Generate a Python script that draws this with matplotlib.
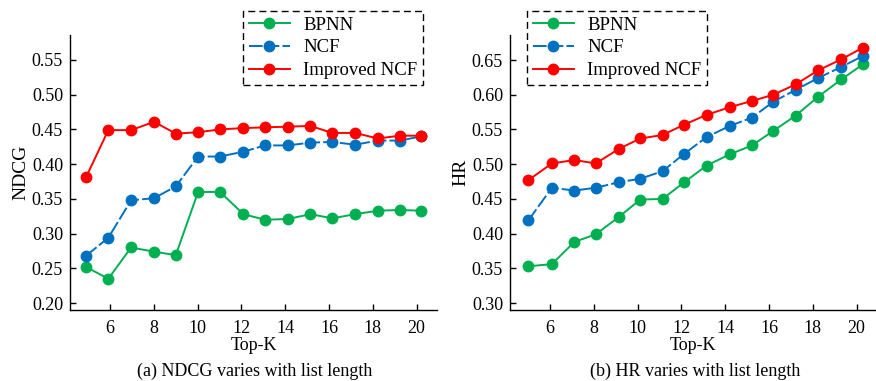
import matplotlib
matplotlib.use("Agg")
import matplotlib.pyplot as plt

plt.rcParams['font.family'] = ['Liberation Serif', 'DejaVu Serif']
plt.rcParams['mathtext.fontset'] = 'stix'

# Top-K positions as drawn (slightly offset from the integers in the original)
topk_a = [4.90, 5.92, 6.96, 8.01, 9.00, 10.02, 11.02, 12.09, 13.08, 14.11, 15.15, 16.15, 17.19, 18.22, 19.24, 20.20]
topk_b = [5.01, 6.08, 7.11, 8.09, 9.14, 10.12, 11.14, 12.13, 13.15, 14.20, 15.22, 16.20, 17.22, 18.24, 19.30, 20.30]

ndcg_bpnn = [0.252, 0.235, 0.280, 0.274, 0.269, 0.360, 0.360, 0.328, 0.320, 0.321, 0.328, 0.322, 0.328, 0.333, 0.334, 0.333]
ndcg_ncf = [0.268, 0.294, 0.348, 0.351, 0.368, 0.411, 0.411, 0.418, 0.427, 0.427, 0.431, 0.432, 0.428, 0.434, 0.434, 0.440]
ndcg_impr = [0.381, 0.449, 0.449, 0.461, 0.444, 0.446, 0.450, 0.452, 0.453, 0.454, 0.455, 0.445, 0.445, 0.437, 0.441, 0.441]

hr_bpnn = [0.353, 0.356, 0.388, 0.399, 0.424, 0.449, 0.450, 0.474, 0.498, 0.514, 0.527, 0.548, 0.570, 0.597, 0.622, 0.644]
hr_ncf = [0.419, 0.466, 0.462, 0.466, 0.474, 0.479, 0.490, 0.515, 0.539, 0.555, 0.567, 0.590, 0.607, 0.624, 0.640, 0.656]
hr_impr = [0.477, 0.501, 0.506, 0.501, 0.522, 0.537, 0.542, 0.557, 0.571, 0.582, 0.591, 0.600, 0.615, 0.635, 0.651, 0.668]

series_names = ["BPNN", "NCF", "Improved NCF"]
colors = ["#00B050", "#0070C0", "#FF0000"]
xticks = [6, 8, 10, 12, 14, 16, 18, 20]
yticks_a = [0.20, 0.25, 0.30, 0.35, 0.40, 0.45, 0.50, 0.55]
yticks_b = [0.30, 0.35, 0.40, 0.45, 0.50, 0.55, 0.60, 0.65]
captions = ["(a) NDCG varies with list length", "(b) HR varies with list length"]
ylabels = ["NDCG", "HR"]

W, H = 876, 381
fig = plt.figure(figsize=(W / 100, H / 100), dpi=100)

def px_axes(x0, x1, y0, y1):
    return fig.add_axes([x0 / W, 1 - y1 / H, (x1 - x0) / W, (y1 - y0) / H])

ax_a = px_axes(70, 437, 35, 310)
ax_b = px_axes(510, 875, 35, 310)

panels = [
    (ax_a, topk_a, [ndcg_bpnn, ndcg_ncf, ndcg_impr], yticks_a, (0.19, 0.586), (4.17, 20.93), 70, 243, 255),
    (ax_b, topk_b, [hr_bpnn, hr_ncf, hr_impr], yticks_b, (0.29, 0.686), (4.17, 20.84), 510, 527, 695),
]

fs = 13
for i, (ax, xs, ys_list, yt, ylim, xlim, ax_x0, leg_x, cap_x) in enumerate(panels):
    handles = []
    for j, ys in enumerate(ys_list):
        kw = dict(color=colors[j], marker='o', markersize=7.5, linewidth=1.4,
                  label=series_names[j])
        if j == 1:
            kw['linestyle'] = (0, (7, 1.6))
        h, = ax.plot(xs, ys, **kw)
        handles.append(h)
    ax.set_xlim(*xlim)
    ax.set_ylim(*ylim)
    ax.set_xticks(xticks)
    ax.set_yticks(yt)
    ax.set_yticklabels([f"{v:.2f}" for v in yt])
    for s in ['top', 'right']:
        ax.spines[s].set_visible(False)
    for s in ['left', 'bottom']:
        ax.spines[s].set_linewidth(1.0)
    ax.tick_params(direction='in', length=4, width=1.0, labelsize=fs)
    ax.tick_params(axis='x', pad=7)
    ax.tick_params(axis='y', pad=5)
    ax.set_ylabel(ylabels[i], fontsize=14, labelpad=2)
    ax.set_xlabel("Top-K", fontsize=fs, labelpad=0)
    fig.text(cap_x / W, 1 - 371 / H, captions[i], ha='center', va='center', fontsize=fs)
    ax_w = ax.get_position().width * W
    leg = ax.legend(handles=handles,
                    loc='upper left',
                    bbox_to_anchor=((leg_x - ax_x0) / ax_w, 1 + 24 / 275),
                    frameon=True, fancybox=False, fontsize=13.5, handlelength=2.2,
                    borderpad=0.3, labelspacing=0.3, handletextpad=0.7,
                    borderaxespad=0)
    fr = leg.get_frame()
    fr.set_edgecolor('black')
    fr.set_linestyle((0, (5, 3)))
    fr.set_linewidth(1.0)
    fr.set_facecolor('white')
    fr.set_alpha(1)

fig.savefig("out.png", dpi=100)
